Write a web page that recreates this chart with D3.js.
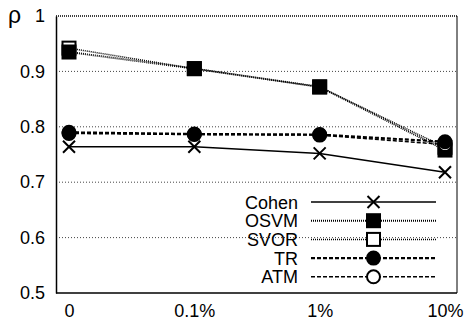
<!DOCTYPE html>
<html>
<head>
<meta charset="utf-8">
<script src="https://cdn.jsdelivr.net/npm/d3@7"></script>
<style>
  body { margin: 0; background: #fff; }
  text { font-family: "Liberation Sans", Arial, sans-serif; }
</style>
</head>
<body>
<div id="chart"></div>
<script>
var categories = ["0", "0.1%", "1%", "10%"];
var yTicks = [0.5, 0.6, 0.7, 0.8, 0.9, 1];

var cohen = [0.764, 0.764, 0.752, 0.718];
var osvm  = [0.935, 0.905, 0.872, 0.758];
var svor  = [0.942, 0.905, 0.872, 0.763];
var tr    = [0.790, 0.787, 0.786, 0.773];
var atm   = [0.788, 0.786, 0.785, 0.768];

var series = [
  {name: "Cohen", values: cohen, dash: null, width: 1.5, marker: "x", z: 0},
  {name: "OSVM", values: osvm, dash: "1,1", width: 2, marker: "fsquare", z: 2},
  {name: "SVOR", values: svor, dash: "1,1", width: 1.5, marker: "osquare", z: 1},
  {name: "TR", values: tr, dash: "4,2", width: 2.2, marker: "fcircle", z: 4},
  {name: "ATM", values: atm, dash: "4,2", width: 1.5, marker: "ocircle", z: 3}
];

var W = 464, H = 329;
var margin = {top: 16, right: 7, bottom: 36, left: 56},
    width = W - margin.left - margin.right,
    height = H - margin.top - margin.bottom;

var svg = d3.select("#chart").append("svg")
    .attr("width", W)
    .attr("height", H)
  .append("g")
    .attr("transform", "translate(" + margin.left + "," + margin.top + ")");

var x = d3.scalePoint()
  .domain(categories)
  .range([13, width - 12]);

var y = d3.scaleLinear()
  .domain([0.5, 1])
  .range([height, 0]);

// grid lines
svg.selectAll(".grid")
  .data(yTicks.filter(function(d) { return d > 0.5 && d < 1; }))
  .enter().append("line")
  .attr("x1", 0).attr("x2", width)
  .attr("y1", function(d) { return y(d); })
  .attr("y2", function(d) { return y(d); })
  .attr("stroke", "#444")
  .attr("stroke-width", 1)
  .attr("stroke-dasharray", "1,2");

// frame
svg.append("line").attr("x1", 0).attr("x2", width).attr("y1", 0).attr("y2", 0)
  .attr("stroke", "#000").attr("stroke-width", 1.5).attr("stroke-dasharray", "1,1");
svg.append("line").attr("x1", width).attr("x2", width).attr("y1", 0).attr("y2", height)
  .attr("stroke", "#000").attr("stroke-width", 1);

var yAxis = svg.append("g")
  .call(d3.axisLeft(y).tickValues(yTicks).tickSize(0).tickPadding(11)
    .tickFormat(function(d) { return d === 1 ? "1" : d3.format(".1f")(d); }));
yAxis.select(".domain").attr("stroke", "#000").attr("stroke-width", 1.5);
yAxis.selectAll("text").attr("font-size", 18).attr("fill", "#000")
  .attr("font-family", "Liberation Sans, Arial, sans-serif");

var xAxis = svg.append("g")
  .attr("transform", "translate(0," + height + ")")
  .call(d3.axisBottom(x).tickSize(0).tickPadding(11));
xAxis.select(".domain").attr("d", "M0,0H" + width).attr("stroke", "#000").attr("stroke-width", 1.5);
xAxis.selectAll("text").attr("font-size", 18).attr("fill", "#000")
  .attr("font-family", "Liberation Sans, Arial, sans-serif");

svg.append("text")
  .attr("x", -48).attr("y", 7)
  .attr("font-size", 23)
  .text("ρ");

function drawMarker(g, type, cx, cy) {
  if (type === "x") {
    var s = 6;
    g.append("path")
      .attr("d", "M" + (cx - s) + "," + (cy - s) + "L" + (cx + s) + "," + (cy + s) +
                 "M" + (cx - s) + "," + (cy + s) + "L" + (cx + s) + "," + (cy - s))
      .attr("stroke", "#000").attr("stroke-width", 2).attr("fill", "none");
  } else if (type === "fsquare" || type === "osquare") {
    var h = 6.5;
    g.append("rect")
      .attr("x", cx - h).attr("y", cy - h).attr("width", 2 * h).attr("height", 2 * h)
      .attr("fill", type === "fsquare" ? "#000" : "#fff")
      .attr("stroke", "#000").attr("stroke-width", 2);
  } else {
    g.append("circle")
      .attr("cx", cx).attr("cy", cy).attr("r", 6.5)
      .attr("fill", type === "fcircle" ? "#000" : "#fff")
      .attr("stroke", "#000").attr("stroke-width", 2);
  }
}

var line = d3.line()
  .x(function(d, i) { return x(categories[i]); })
  .y(function(d) { return y(d); });

series.slice().sort(function(a, b) { return a.z - b.z; }).forEach(function(s) {
  var g = svg.append("g");
  g.append("path")
    .datum(s.values)
    .attr("d", line)
    .attr("fill", "none")
    .attr("stroke", "#000")
    .attr("stroke-width", s.width)
    .attr("stroke-dasharray", s.dash);
  s.values.forEach(function(v, i) {
    drawMarker(g, s.marker, x(categories[i]), y(v));
  });
});

// legend
var legend = svg.append("g");
var lx0 = 255, lx1 = 380, ly0 = 186, lstep = 18.7;
series.forEach(function(s, i) {
  var ly = ly0 + i * lstep;
  legend.append("text")
    .attr("x", 242).attr("y", ly + 6.5)
    .attr("text-anchor", "end")
    .attr("font-size", 18)
    .text(s.name);
  legend.append("line")
    .attr("x1", lx0).attr("x2", lx1).attr("y1", ly).attr("y2", ly)
    .attr("stroke", "#000")
    .attr("stroke-width", s.width)
    .attr("stroke-dasharray", s.dash);
  drawMarker(legend, s.marker, (lx0 + lx1) / 2, ly);
});
</script>
</body>
</html>
